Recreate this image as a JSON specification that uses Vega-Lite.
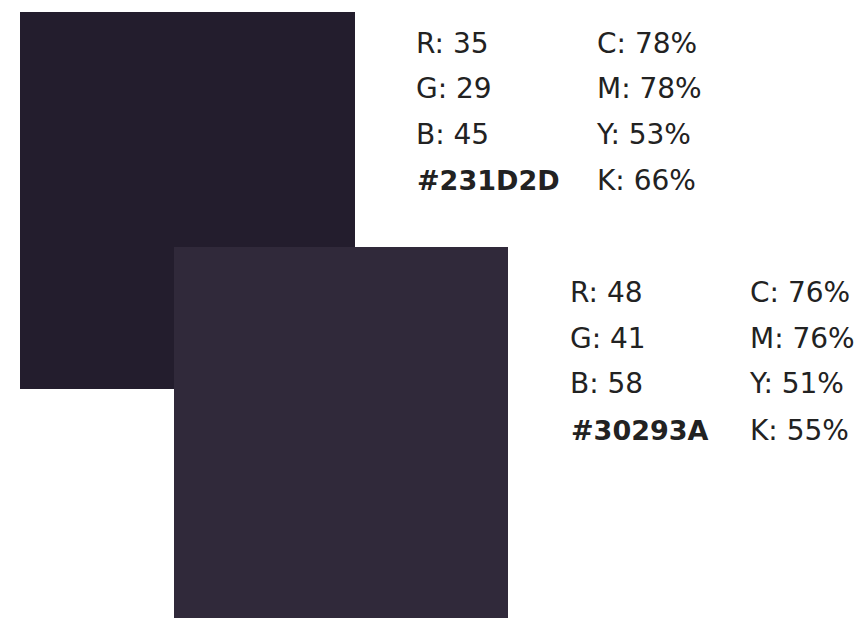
{
  "$schema": "https://vega.github.io/schema/vega-lite/v6.json",
  "autosize": {"type": "fit", "contains": "padding"},
  "width": 864,
  "height": 618,
  "padding": 0,
  "background": "#ffffff",
  "config": {"view": {"stroke": null}},
  "datasets": {
    "swatches": [
      {"hex": "#231D2D", "x0": 20, "x1": 355, "y0": 12, "y1": 389},
      {"hex": "#30293A", "x0": 174, "x1": 508, "y0": 247, "y1": 618}
    ],
    "labels": [
      {"label": "R: 35", "x": 416, "y": 53, "bold": false},
      {"label": "G: 29", "x": 416, "y": 98, "bold": false},
      {"label": "B: 45", "x": 416, "y": 144, "bold": false},
      {"label": "#231D2D", "x": 417, "y": 190, "bold": true},
      {"label": "C: 78%", "x": 597, "y": 53, "bold": false},
      {"label": "M: 78%", "x": 597, "y": 98, "bold": false},
      {"label": "Y: 53%", "x": 597, "y": 144, "bold": false},
      {"label": "K: 66%", "x": 597, "y": 190, "bold": false},
      {"label": "R: 48", "x": 570, "y": 302, "bold": false},
      {"label": "G: 41", "x": 570, "y": 348, "bold": false},
      {"label": "B: 58", "x": 570, "y": 393, "bold": false},
      {"label": "#30293A", "x": 571, "y": 440, "bold": true},
      {"label": "C: 76%", "x": 750, "y": 302, "bold": false},
      {"label": "M: 76%", "x": 750, "y": 348, "bold": false},
      {"label": "Y: 51%", "x": 750, "y": 393, "bold": false},
      {"label": "K: 55%", "x": 750, "y": 440, "bold": false}
    ]
  },
  "layer": [
    {
      "data": {"name": "swatches"},
      "mark": {"type": "rect"},
      "encoding": {
        "x": {"field": "x0", "type": "quantitative", "scale": {"domain": [0, 864], "nice": false, "zero": false}, "axis": null},
        "x2": {"field": "x1"},
        "y": {"field": "y0", "type": "quantitative", "scale": {"domain": [0, 618], "nice": false, "zero": false, "reverse": true}, "axis": null},
        "y2": {"field": "y1"},
        "color": {"field": "hex", "type": "nominal", "scale": {"domain": ["#231D2D", "#30293A"], "range": ["#231D2D", "#30293A"]}, "legend": null}
      }
    },
    {
      "data": {"name": "labels"},
      "transform": [{"filter": "!datum.bold"}],
      "mark": {"type": "text", "align": "left", "baseline": "alphabetic", "font": "DejaVu Sans", "fontSize": 28, "color": "#222222"},
      "encoding": {
        "x": {"field": "x", "type": "quantitative"},
        "y": {"field": "y", "type": "quantitative"},
        "text": {"field": "label"}
      }
    },
    {
      "data": {"name": "labels"},
      "transform": [{"filter": "datum.bold"}],
      "mark": {"type": "text", "align": "left", "baseline": "alphabetic", "font": "DejaVu Sans", "fontSize": 27, "fontWeight": "bold", "color": "#222222"},
      "encoding": {
        "x": {"field": "x", "type": "quantitative"},
        "y": {"field": "y", "type": "quantitative"},
        "text": {"field": "label"}
      }
    }
  ]
}
